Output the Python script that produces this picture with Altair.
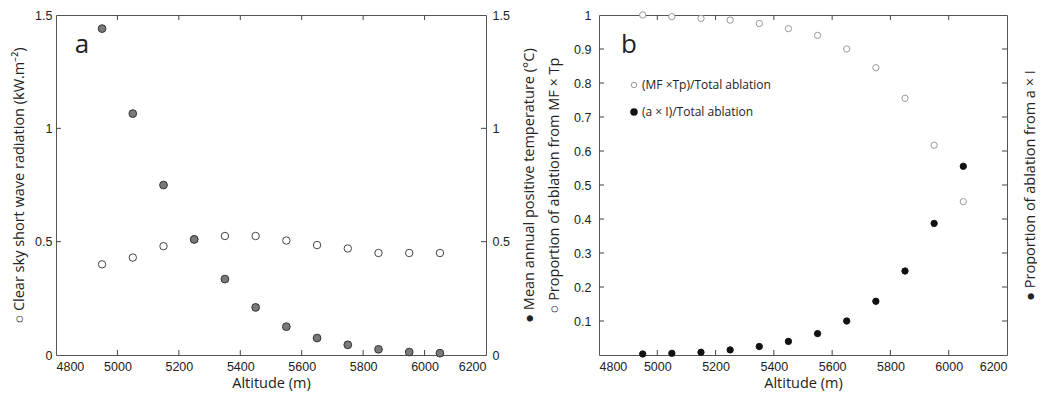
import altair as alt
import pandas as pd

altitude = [4950, 5050, 5150, 5250, 5350, 5450, 5550, 5650, 5750, 5850, 5950, 6050]
radiation = [0.40, 0.43, 0.48, 0.51, 0.525, 0.525, 0.505, 0.485, 0.47, 0.45, 0.45, 0.45]
temperature = [1.44, 1.065, 0.75, 0.51, 0.335, 0.21, 0.125, 0.075, 0.045, 0.025, 0.013, 0.008]
prop_mf_tp = [1.0, 0.995, 0.99, 0.985, 0.975, 0.96, 0.94, 0.90, 0.845, 0.755, 0.617, 0.451]
prop_a_i = [0.003, 0.005, 0.008, 0.015, 0.025, 0.04, 0.063, 0.10, 0.158, 0.247, 0.387, 0.555]

x_ticks = [5000, 5200, 5400, 5600, 5800, 6000]
x_labels = [4800, 5000, 5200, 5400, 5600, 5800, 6000, 6200]
a_y_ticks = [0.5, 1.0]
a_y_labels = [0, 0.5, 1, 1.5]
b_y_labels = [0.1, 0.2, 0.3, 0.4, 0.5, 0.6, 0.7, 0.8, 0.9, 1.0]
b_y_ticks = [0.1, 0.2, 0.3, 0.4, 0.5, 0.6, 0.7, 0.8, 0.9]
legend_labels = ["(MF \u00d7Tp)/Total ablation", "(a \u00d7 I)/Total ablation"]

df = pd.DataFrame({"alt": altitude, "rad": radiation, "temp": temperature,
                   "mf": prop_mf_tp, "ai": prop_a_i})
xt = pd.DataFrame({"t": x_ticks})
ayt = pd.DataFrame({"t": a_y_ticks})
byt = pd.DataFrame({"t": b_y_ticks})

LABEL_FONT = "Liberation Sans"
TITLE_FONT = "Open Sans"
INK = "#222222"

xscale = alt.Scale(domain=[4800, 6200], nice=False, zero=False)
x_axis = alt.Axis(values=x_labels, title="Altitude (m)", ticks=False, domain=False,
                  grid=False, labelPadding=5, titlePadding=4, format="d")


def tick_layers(W, H, yscale, yaxis, ydf):
    xb = alt.Chart(xt).mark_rule(color="#444", strokeWidth=1).encode(
        x=alt.X("t:Q", scale=xscale, axis=x_axis), y=alt.value(H), y2=alt.value(H - 5))
    xtp = alt.Chart(xt).mark_rule(color="#444", strokeWidth=1).encode(
        x=alt.X("t:Q", scale=xscale, axis=x_axis), y=alt.value(0), y2=alt.value(5))
    yl = alt.Chart(ydf).mark_rule(color="#444", strokeWidth=1).encode(
        y=alt.Y("t:Q", scale=yscale, axis=yaxis), x=alt.value(0), x2=alt.value(5))
    yr = alt.Chart(ydf).mark_rule(color="#444", strokeWidth=1).encode(
        y=alt.Y("t:Q", scale=yscale, axis=yaxis), x=alt.value(W - 5), x2=alt.value(W))
    return [xb, xtp, yl, yr]


# ---------------- Panel a ----------------
WA, HA = 430, 340
ya = alt.Scale(domain=[0, 1.5], nice=False)
ya_axis = alt.Axis(values=a_y_labels, format="~g", ticks=False, domain=False,
                   grid=False, labelPadding=4, titlePadding=8,
                   title="\u25cb  Clear sky short wave radiation (kW.m\u207b\u00b2)")

rad_pts = alt.Chart(df).mark_point(shape="circle", filled=True, fill="white",
                                   stroke="#444", strokeWidth=1, size=55, opacity=1).encode(
    x=alt.X("alt:Q", scale=xscale, axis=x_axis),
    y=alt.Y("rad:Q", scale=ya, axis=ya_axis))

letter_a = alt.Chart(pd.DataFrame({"s": ["a"]})).mark_text(
    font=TITLE_FONT, fontSize=26, align="center", baseline="alphabetic", color=INK).encode(
    text="s:N", x=alt.value(26), y=alt.value(38))

group_a = alt.layer(rad_pts, *tick_layers(WA, HA, ya, ya_axis, ayt), letter_a)

temp_pts = alt.Chart(df).mark_point(shape="circle", filled=True, fill="#7a7a7a",
                                    stroke="#333", strokeWidth=1, size=60, opacity=1).encode(
    x=alt.X("alt:Q", scale=xscale, axis=x_axis),
    y=alt.Y("temp:Q", scale=ya,
            axis=alt.Axis(orient="right", values=a_y_labels, format="~g", ticks=False,
                          domain=False, grid=False, labelPadding=6, titlePadding=27,
                          titleAngle=270,
                          title="\u25cf  Mean annual  positive temperature (\u00b0C)")))

panel_a = alt.layer(group_a, temp_pts).resolve_scale(y="independent").properties(
    width=WA, height=HA)

# ---------------- Panel b ----------------
WB, HB = 408, 340
yb = alt.Scale(domain=[0, 1.0], nice=False)
yb_axis = alt.Axis(values=b_y_labels, format="~g", ticks=False, domain=False,
                   grid=False, labelPadding=8, titlePadding=12,
                   title="\u25cb  Proportion of ablation from MF \u00d7 Tp")

mf_pts = alt.Chart(df).mark_point(shape="circle", filled=True, fill="white",
                                  stroke="#999", strokeWidth=1, size=40, opacity=1).encode(
    x=alt.X("alt:Q", scale=xscale, axis=x_axis),
    y=alt.Y("mf:Q", scale=yb, axis=yb_axis))

leg_df = pd.DataFrame({"lab": legend_labels, "k": [0, 1]})
leg_mf = alt.Chart(leg_df[leg_df.k == 0]).mark_point(
    shape="circle", filled=True, fill="white", stroke="#999", strokeWidth=1, size=30,
    opacity=1).encode(x=alt.value(35), y=alt.value(70))
leg_ai = alt.Chart(leg_df[leg_df.k == 1]).mark_point(
    shape="circle", filled=True, fill="#111", stroke="#111", size=30,
    opacity=1).encode(x=alt.value(35), y=alt.value(97))
leg_t1 = alt.Chart(leg_df[leg_df.k == 0]).mark_text(
    font=TITLE_FONT, fontSize=12, align="left", baseline="middle", color=INK).encode(
    text="lab:N", x=alt.value(43), y=alt.value(70))
leg_t2 = alt.Chart(leg_df[leg_df.k == 1]).mark_text(
    font=TITLE_FONT, fontSize=12, align="left", baseline="middle", color=INK).encode(
    text="lab:N", x=alt.value(43), y=alt.value(97))

letter_b = alt.Chart(pd.DataFrame({"s": ["b"]})).mark_text(
    font=TITLE_FONT, fontSize=26, align="center", baseline="alphabetic", color=INK).encode(
    text="s:N", x=alt.value(30), y=alt.value(38))

group_b = alt.layer(mf_pts, *tick_layers(WB, HB, yb, yb_axis, byt), letter_b,
                    leg_mf, leg_ai, leg_t1, leg_t2)

ai_pts = alt.Chart(df).mark_point(shape="circle", filled=True, fill="#111",
                                  stroke="#111", strokeWidth=1, size=40, opacity=1).encode(
    x=alt.X("alt:Q", scale=xscale, axis=x_axis),
    y=alt.Y("ai:Q", scale=yb,
            axis=alt.Axis(orient="right", values=b_y_labels, labels=False, ticks=False,
                          domain=False, grid=False, titlePadding=30, titleAngle=270,
                          title="\u25cf  Proportion of ablation from  a \u00d7 I")))

panel_b = alt.layer(group_b, ai_pts).resolve_scale(y="independent").properties(
    width=WB, height=HB)

chart = alt.hconcat(panel_a, panel_b, spacing=9).properties(
    padding={"left": 3, "right": 0, "top": 0, "bottom": 0}, background="white"
).configure_view(stroke="#555", strokeWidth=1).configure_axis(
    labelFont=LABEL_FONT, labelFontSize=12.5, labelColor=INK,
    titleFont=TITLE_FONT, titleFontSize=14.5, titleFontWeight="normal", titleColor=INK
)

chart.save("out.html", embed_options={"renderer": "svg", "actions": False})
